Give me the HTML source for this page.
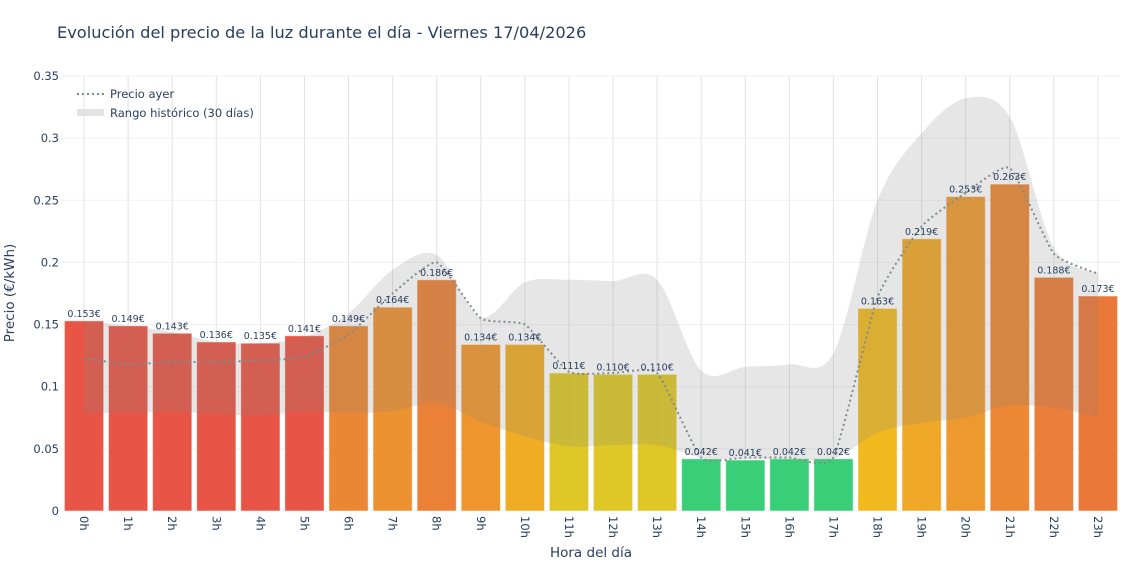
<!DOCTYPE html>
<html><head><meta charset="utf-8"><style>
body{margin:0;background:#fff;}
svg{display:block;font-family:"DejaVu Sans","Liberation Sans",sans-serif;}
</style></head><body>
<svg id="chart" width="1140" height="570" xmlns="http://www.w3.org/2000/svg">
<text x="57" y="38" font-size="16.2" fill="#2a3f5f">Evolución del precio de la luz durante el día - Viernes 17/04/2026</text>
<g id="grid"></g><g id="bars"></g><g id="band"></g><g id="line"></g><g id="labels"></g><g id="axes"></g>
<text transform="translate(14,293) rotate(-90)" text-anchor="middle" font-size="13.5" fill="#2a3f5f">Precio (€/kWh)</text>
<text x="591" y="557" text-anchor="middle" font-size="13.5" fill="#2a3f5f">Hora del día</text>
<g>
<line x1="77" y1="94" x2="104" y2="94" stroke="#7f8c8d" stroke-width="2" stroke-dasharray="2,3"/>
<text x="110" y="98" font-size="11.5" fill="#2a3f5f">Precio ayer</text>
<rect x="77" y="109" width="27" height="7" fill="#e3e3e3"/>
<text x="110" y="117" font-size="11.5" fill="#2a3f5f">Rango histórico (30 días)</text>
</g>
</svg>
<script>
const hours=["0h","1h","2h","3h","4h","5h","6h","7h","8h","9h","10h","11h","12h","13h","14h","15h","16h","17h","18h","19h","20h","21h","22h","23h"];
const prices=[0.153,0.149,0.143,0.136,0.135,0.141,0.149,0.164,0.186,0.134,0.134,0.111,0.110,0.110,0.042,0.041,0.042,0.042,0.163,0.219,0.253,0.263,0.188,0.173];
const yesterday=[0.123,0.118,0.120,0.120,0.121,0.124,0.142,0.175,0.200,0.155,0.150,0.112,0.111,0.111,0.043,0.043,0.043,0.043,0.172,0.229,0.256,0.276,0.207,0.191];
const rangeMax=[0.153,0.149,0.144,0.136,0.135,0.140,0.159,0.194,0.206,0.156,0.184,0.186,0.185,0.186,0.113,0.116,0.118,0.127,0.250,0.304,0.332,0.317,0.212,0.191];
const rangeMin=[0.079,0.079,0.080,0.078,0.077,0.080,0.079,0.080,0.087,0.072,0.060,0.052,0.053,0.053,0.043,0.042,0.042,0.042,0.063,0.071,0.075,0.085,0.083,0.076];
const barColors=["#e74c3c","#e74c3c","#e74c3c","#e74c3c","#e74c3c","#e74c3c","#ea8129","#ec8c25","#ea7a2c","#ee8f22","#f0a81a","#dcc41a","#dcc41a","#dcc41a","#2ecc71","#2ecc71","#2ecc71","#2ecc71","#f0b512","#eea31c","#ed9423","#eb8129","#ea772d","#e9722e"];
const yTicks=[0,0.05,0.1,0.15,0.2,0.25,0.3,0.35];
const NS="http://www.w3.org/2000/svg";
const X0=62,X1=1120,Y0=511,Y1=76,YMAX=0.35;
const step=(X1-X0)/hours.length;
const xs=i=>X0+step*(i+0.5);
const ys=v=>Y0-(v/YMAX)*(Y0-Y1);
function mk(tag,attrs,parent){const e=document.createElementNS(NS,tag);for(const k in attrs)e.setAttribute(k,attrs[k]);document.getElementById(parent).appendChild(e);return e;}
function spline(pts,t){let d="M"+pts[0][0]+","+pts[0][1];for(let i=0;i<pts.length-1;i++){const p0=pts[Math.max(i-1,0)],p1=pts[i],p2=pts[i+1],p3=pts[Math.min(i+2,pts.length-1)];d+=" C"+(p1[0]+(p2[0]-p0[0])*t)+","+(p1[1]+(p2[1]-p0[1])*t)+" "+(p2[0]-(p3[0]-p1[0])*t)+","+(p2[1]-(p3[1]-p1[1])*t)+" "+p2[0]+","+p2[1];}return d;}
yTicks.forEach((v,i)=>{
 const l=mk("line",{x1:X0,x2:X1,y1:ys(v),y2:ys(v),stroke:"#eef0f4","stroke-width":1},"grid");
 
 
 const t=mk("text",{x:X0-3,y:ys(v)+4,"text-anchor":"end","font-size":11.5,fill:"#2a3f5f"},"axes");
 t.textContent=String(v);
 
 
});
hours.forEach((h,i)=>{
 const g=mk("line",{x1:xs(i),x2:xs(i),y1:Y1,y2:Y0,stroke:"#e2e2e2","stroke-width":1},"grid");
 
 
 const bw=step*0.89;
 const b=mk("rect",{x:xs(i)-bw/2,y:ys(prices[i]),width:bw,height:Y0-ys(prices[i]),fill:barColors[i],"fill-opacity":0.95,stroke:"#fff","stroke-opacity":0.5,"stroke-width":1},"bars");
 
 
 const t=mk("text",{x:xs(i),y:ys(prices[i])-4,"text-anchor":"middle","font-size":9.5,fill:"#2a3f5f"},"labels");
 t.textContent=prices[i].toFixed(3)+"€";
 
 
 const tk=mk("text",{transform:"translate("+(xs(i)-4)+","+(Y0+5)+") rotate(90)","font-size":11.5,fill:"#2a3f5f"},"axes");
 tk.textContent=h;
 
 
});
const up=rangeMax.map((v,i)=>[xs(i),ys(v)]);
const lo=rangeMin.map((v,i)=>[xs(i),ys(v)]).reverse();
const dl=spline(lo,0.16).replace(/^M/,"L");
const band=mk("path",{d:spline(up,0.16)+" "+dl+" Z",fill:"rgb(128,128,128)","fill-opacity":0.2},"band");


const ln=mk("path",{d:spline(yesterday.map((v,i)=>[xs(i),ys(v)]),0.08),fill:"none",stroke:"#7f8c8d","stroke-width":2,"stroke-dasharray":"2,3"},"line");


</script>
</body></html>
